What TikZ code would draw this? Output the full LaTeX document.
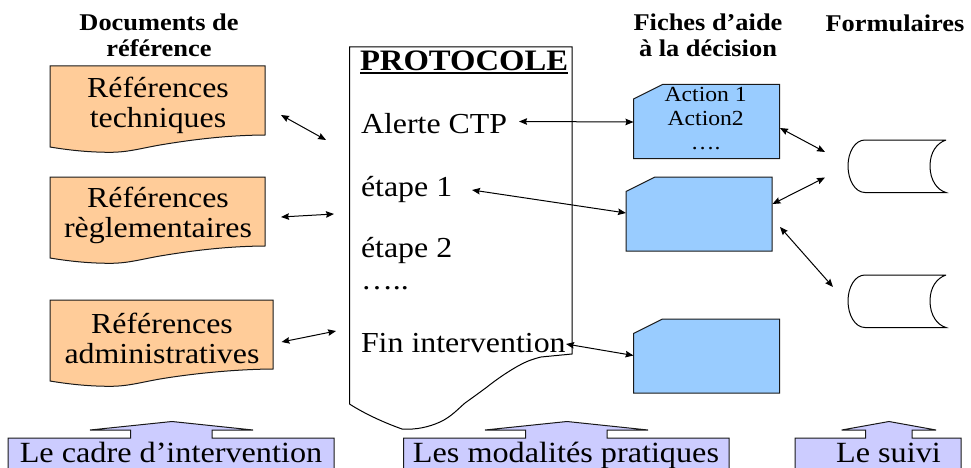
\documentclass[tikz,border=0pt]{standalone}
\usepackage{fontspec}
\setmainfont[FakeStretch=1.1]{Liberation Serif}
\usetikzlibrary{arrows.meta}
\definecolor{docorange}{HTML}{FFCC99}
\definecolor{ficheblue}{HTML}{99CCFF}
\definecolor{callout}{HTML}{CCCCFF}
\tikzset{
  shapeline/.style={draw=black!90, line width=1pt, line join=miter},
  docshape/.style={shapeline, fill=docorange},
  ficheshape/.style={shapeline, fill=ficheblue},
  calloutshape/.style={shapeline, fill=callout},
  storeshape/.style={draw=black, line width=1pt},
  link/.style={{Stealth[length=8pt,width=6.5pt,inset=1pt]}-{Stealth[length=8pt,width=6.5pt,inset=1pt]}, line width=1pt, black},
  txt/.style={inner sep=0pt, outer sep=0pt, align=center, font=\fontsize{29}{30}\selectfont},
  calltxt/.style={inner sep=0pt, outer sep=0pt, anchor=base, font=\fontsize{29.3}{30}\selectfont},
  ltxt/.style={inner sep=0pt, outer sep=0pt, anchor=base west, font=\fontsize{29}{30}\selectfont},
  head/.style={inner sep=0pt, outer sep=0pt, align=center, font=\fontsize{24}{26}\selectfont\bfseries},
  small/.style={inner sep=0pt, outer sep=0pt, align=center, font=\fontsize{21.5}{24}\selectfont},
}
\newcommand{\docpath}[4]{% left, right, top, right-bottom
  (#1,#3) -- (#2,#3) -- (#2,#4)
  .. controls ({#2-40},{#4+0.3}) and ({#1+140},{#4+5}) .. ({#1+110},{#4+10})
  .. controls ({#1+90},{#4+13.5}) and ({#1+78},{#4+17.3}) .. ({#1+60},{#4+17.3})
  .. controls ({#1+38},{#4+17.3}) and ({#1+18},{#4+15}) .. (#1,{#4+12}) -- cycle}
\newcommand{\fichepath}[2]{% left, top
  (#1,{#2+14.5}) -- ({#1+29},#2) -- ({#1+146},#2) -- ({#1+146},{#2+74}) -- (#1,{#2+74}) -- cycle}
\newcommand{\storepath}[1]{% top
  (946,#1) -- (865,#1) .. controls (855,#1) and (848,{#1+12}) .. (848,{#1+26})
  .. controls (848,{#1+40}) and (855,{#1+52.5}) .. (865,{#1+52.5}) -- (946,{#1+52.5})
  .. controls (937,{#1+50}) and (930,{#1+40}) .. (930,{#1+26})
  .. controls (930,{#1+12}) and (937,{#1+3}) .. (946,#1)}
\newcommand{\upcall}[8]{% left,right,stemL,stemR,wingL,wingR,tip,bottom
  (#1,438) -- (#3,438) -- (#3,430) -- (#5,430) -- (#7,421.5) -- (#6,430) -- (#4,430) -- (#4,438) -- (#2,438) -- (#2,#8) -- (#1,#8) -- cycle}
\begin{document}
\begin{tikzpicture}[x=1pt,y=-1pt]
\useasboundingbox (0,0) rectangle (971,468);
% headings
\node[head] (hdoc) at (159,35.5) {Documents de\\référence};
\node[head] (hfic) at (708,35.5) {Fiches d’aide\\à la décision};
\node[head] (hfor) at (895,23) {Formulaires};
% document shapes
\draw[docshape] \docpath{50}{265}{66}{135};
\draw[docshape] \docpath{50}{265}{177}{246};
\draw[docshape] \docpath{50}{273}{300}{369};
\node[txt] (d1) at (158,105) {Références\\techniques};
\node[txt] (d2) at (158,215) {Références\\règlementaires};
\node[txt] (d3) at (162,338) {Références\\administratives};
% protocol
\draw[shapeline, draw=black, fill=white] (349.5,47) -- (572,47) -- (572,354) -- (541,357)
  .. controls (533,359) and (527,361) .. (518,366)
  .. controls (509,371) and (497,379) .. (487,387)
  .. controls (479,393) and (472,398) .. (465,403)
  .. controls (458,409) and (451,417) .. (440,422)
  .. controls (429,427) and (416,430) .. (402,429)
  .. controls (385,423) and (365,414) .. (349.5,404) -- cycle;
\node[ltxt, font=\fontsize{29.7}{30}\selectfont\bfseries] (ptitle) at (360,70.7) {\vtop{\hbox{PROTOCOLE}\kern1pt\hrule height 2.5pt}};
\node[ltxt] (alerte) at (361,133) {Alerte CTP};
\node[ltxt] (e1) at (361,196) {étape 1};
\node[ltxt] (e2) at (361,257) {étape 2};
\node[ltxt] (pts) at (361,289) {…..};
\node[ltxt] (fin) at (361,352) {Fin intervention};
% fiches
\draw[ficheshape] \fichepath{633.5}{84.5};
\draw[ficheshape] \fichepath{626}{177};
\draw[ficheshape] \fichepath{633.5}{319};
\node[small] (act) at (705.7,118.5) {Action 1\\Action2\\….};
% formulaires
\draw[storeshape] \storepath{140};
\draw[storeshape] \storepath{275};
% callouts
\draw[calloutshape] \upcall{8}{334}{130.5}{212}{90}{253}{172}{469};
\draw[calloutshape] \upcall{403.5}{729}{525.7}{607}{485}{648}{567}{469};
\draw[calloutshape] \upcall{795}{961}{865.7}{912}{841.7}{936}{889}{469};
\node[calltxt] (c1) at (171,462.7) {Le cadre d’intervention};
\node[calltxt] (c2) at (566,462.7) {Les modalités pratiques};
\node[calltxt] (c3) at (888.5,462.7) {Le suivi};
% connector ends
\coordinate (a1) at (281,115); \coordinate (a2) at (326,140);
\coordinate (b1) at (281,217); \coordinate (b2) at (334,214);
\coordinate (c1e) at (281.5,342); \coordinate (c2e) at (336,331);
\coordinate (d1e) at (519,121.5); \coordinate (d2e) at (633.5,122);
\coordinate (e1e) at (472,190); \coordinate (e2e) at (626,213);
\coordinate (f1e) at (566,344); \coordinate (f2e) at (633.5,355.5);
\coordinate (g1e) at (780,128); \coordinate (g2e) at (825,152);
\coordinate (h1e) at (772.5,204); \coordinate (h2e) at (825,177.5);
\coordinate (i1e) at (780,227); \coordinate (i2e) at (833,287);
\foreach \s/\t in {a1/a2,b1/b2,c1e/c2e,d1e/d2e,e1e/e2e,f1e/f2e,g1e/g2e,h1e/h2e,i1e/i2e}
  \draw[link] (\s) -- (\t);
\end{tikzpicture}
\end{document}
